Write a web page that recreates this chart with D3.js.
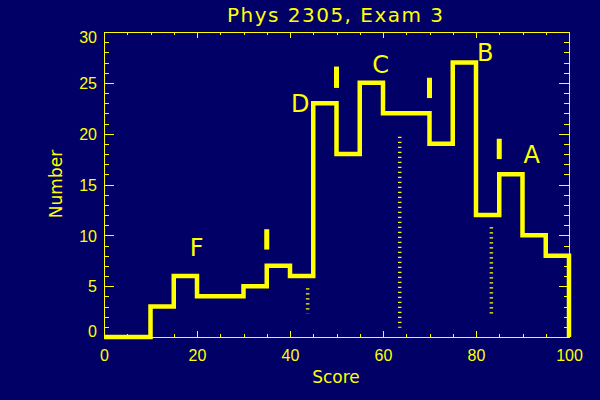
<!DOCTYPE html>
<html>
<head>
<meta charset="utf-8">
<script src="https://cdn.jsdelivr.net/npm/d3@7"></script>
<style>
  html, body { margin: 0; padding: 0; background: #000066; }
  svg { display: block; font-family: "DejaVu Sans", sans-serif; }
  .axis path, .axis line { stroke: #ffff00; shape-rendering: crispEdges; }
  .axis text { fill: #ffff00; font-size: 16px; }
</style>
</head>
<body>
<script>
// histogram : bins de 5 points
var binStart = [0, 5, 10, 15, 20, 25, 30, 35, 40, 45, 50, 55, 60, 65, 70, 75, 80, 85, 90, 95];
var counts = [0, 0, 3, 6, 4, 4, 5, 7, 6, 23, 18, 25, 22, 22, 19, 27, 12, 16, 10, 8];

// coupures entre les notes (barres verticales)
var cutX = [35, 50, 70, 85];
var cutLow = [8.6, 24.5, 23.5, 17.5];
var cutHigh = [10.6, 26.6, 25.5, 19.5];

// lettres
var letters = ["F", "D", "C", "B", "A"];
var letterX = [19.9, 42.2, 59.5, 82, 92];
var letterY = [8.0, 22.1, 26.0, 27.1, 17.1];

// lignes pointillees
var dotX = [43.8, 63.6, 83.3];
var dotLow = [2.3, 0.9, 2.0];
var dotHigh = [4.8, 19.7, 10.8];

var xTicks = [0, 20, 40, 60, 80, 100];
var yTicks = [0, 5, 10, 15, 20, 25, 30];

var width = 600;
var height = 400;
var yellow = "#ffff00";

var svg = d3.select("body")
    .append("svg")
    .attr("width", width)
    .attr("height", height);

svg.append("rect")
    .attr("width", width)
    .attr("height", height)
    .attr("fill", "#000066");

var xscale = d3.scaleLinear().domain([0, 100]).range([104, 569]);
var yscale = d3.scaleLinear().domain([0, 30]).range([337, 32]);

// axes avec ticks vers l'interieur
var xMinor = d3.range(0, 101, 5).filter(function (d) { return d % 20 != 0; });
var yMinor = d3.range(0, 31, 1).filter(function (d) { return d % 5 != 0; });

function minorAxis(axis, vals, len, tr) {
    svg.append("g")
        .attr("class", "axis")
        .attr("transform", tr)
        .call(axis.tickValues(vals).tickSizeInner(-len).tickSizeOuter(0).tickFormat(""))
        .select(".domain").remove();
}

// bas
var xb = svg.append("g")
    .attr("class", "axis")
    .attr("transform", "translate(0," + yscale(0) + ")")
    .call(d3.axisBottom(xscale).tickValues(xTicks).tickSizeInner(-6).tickSizeOuter(0));
xb.selectAll("text").attr("y", 24).attr("dy", null);
minorAxis(d3.axisBottom(xscale), xMinor, 3, "translate(0," + yscale(0) + ")");

// haut
svg.append("g")
    .attr("class", "axis")
    .attr("transform", "translate(0," + yscale(30) + ")")
    .call(d3.axisTop(xscale).tickValues(xTicks).tickSizeInner(-6).tickSizeOuter(0).tickFormat(""));
minorAxis(d3.axisTop(xscale), xMinor, 3, "translate(0," + yscale(30) + ")");

// gauche
var yl = svg.append("g")
    .attr("class", "axis")
    .attr("transform", "translate(" + xscale(0) + ",0)")
    .call(d3.axisLeft(yscale).tickValues(yTicks).tickSizeInner(-10).tickSizeOuter(0));
yl.selectAll("text")
    .attr("x", -7)
    .attr("dy", function (d) {
        if (d == 0) return "-0.5px";
        if (d == 30) return "10.7px";
        return "0.36em";
    });
minorAxis(d3.axisLeft(yscale), yMinor, 5, "translate(" + xscale(0) + ",0)");

// droite
svg.append("g")
    .attr("class", "axis")
    .attr("transform", "translate(" + xscale(100) + ",0)")
    .call(d3.axisRight(yscale).tickValues(yTicks).tickSizeInner(-10).tickSizeOuter(0).tickFormat(""));
minorAxis(d3.axisRight(yscale), yMinor, 5, "translate(" + xscale(100) + ",0)");

// histogramme en escalier
var pts = binStart.map(function (d, i) { return [d, counts[i]]; });
pts.push([100, counts[counts.length - 1]]);
pts.push([100, 0]);

var line = d3.line()
    .x(function (d) { return xscale(d[0]); })
    .y(function (d) { return yscale(d[1]); })
    .curve(d3.curveStepAfter);

svg.append("path")
    .attr("d", line(pts))
    .attr("fill", "none")
    .attr("stroke", yellow)
    .attr("stroke-width", 4.5)
    .attr("stroke-linejoin", "miter");

// barres de coupure
svg.append("g")
    .selectAll("rect")
    .data(cutX)
    .enter()
    .append("rect")
    .attr("x", function (d) { return xscale(d) - 2.5; })
    .attr("width", 5)
    .attr("y", function (d, i) { return yscale(cutHigh[i]); })
    .attr("height", function (d, i) { return yscale(cutLow[i]) - yscale(cutHigh[i]); })
    .attr("fill", yellow);

// pointilles
svg.append("g")
    .selectAll("line")
    .data(dotX)
    .enter()
    .append("line")
    .attr("x1", function (d) { return xscale(d); })
    .attr("x2", function (d) { return xscale(d); })
    .attr("y1", function (d, i) { return yscale(dotHigh[i]); })
    .attr("y2", function (d, i) { return yscale(dotLow[i]); })
    .attr("stroke", yellow)
    .attr("stroke-width", 3.5)
    .attr("stroke-dasharray", "1.2 3.8");

// lettres
svg.append("g")
    .selectAll("text")
    .data(letters)
    .enter()
    .append("text")
    .attr("x", function (d, i) { return xscale(letterX[i]); })
    .attr("y", function (d, i) { return yscale(letterY[i]); })
    .attr("text-anchor", "middle")
    .attr("fill", yellow)
    .style("font-size", "24px")
    .text(function (d) { return d; });

// titre et noms des axes
svg.append("text")
    .attr("x", 335)
    .attr("y", 22)
    .attr("text-anchor", "middle")
    .attr("fill", yellow)
    .attr("textLength", 216)
    .attr("lengthAdjust", "spacing")
    .style("font-size", "20px")
    .text("Phys 2305, Exam 3");

svg.append("text")
    .attr("x", 336)
    .attr("y", 383)
    .attr("text-anchor", "middle")
    .attr("fill", yellow)
    .style("font-size", "17px")
    .text("Score");

svg.append("text")
    .attr("transform", "translate(62,184) rotate(-90)")
    .attr("text-anchor", "middle")
    .attr("fill", yellow)
    .style("font-size", "17px")
    .text("Number");
</script>
</body>
</html>
